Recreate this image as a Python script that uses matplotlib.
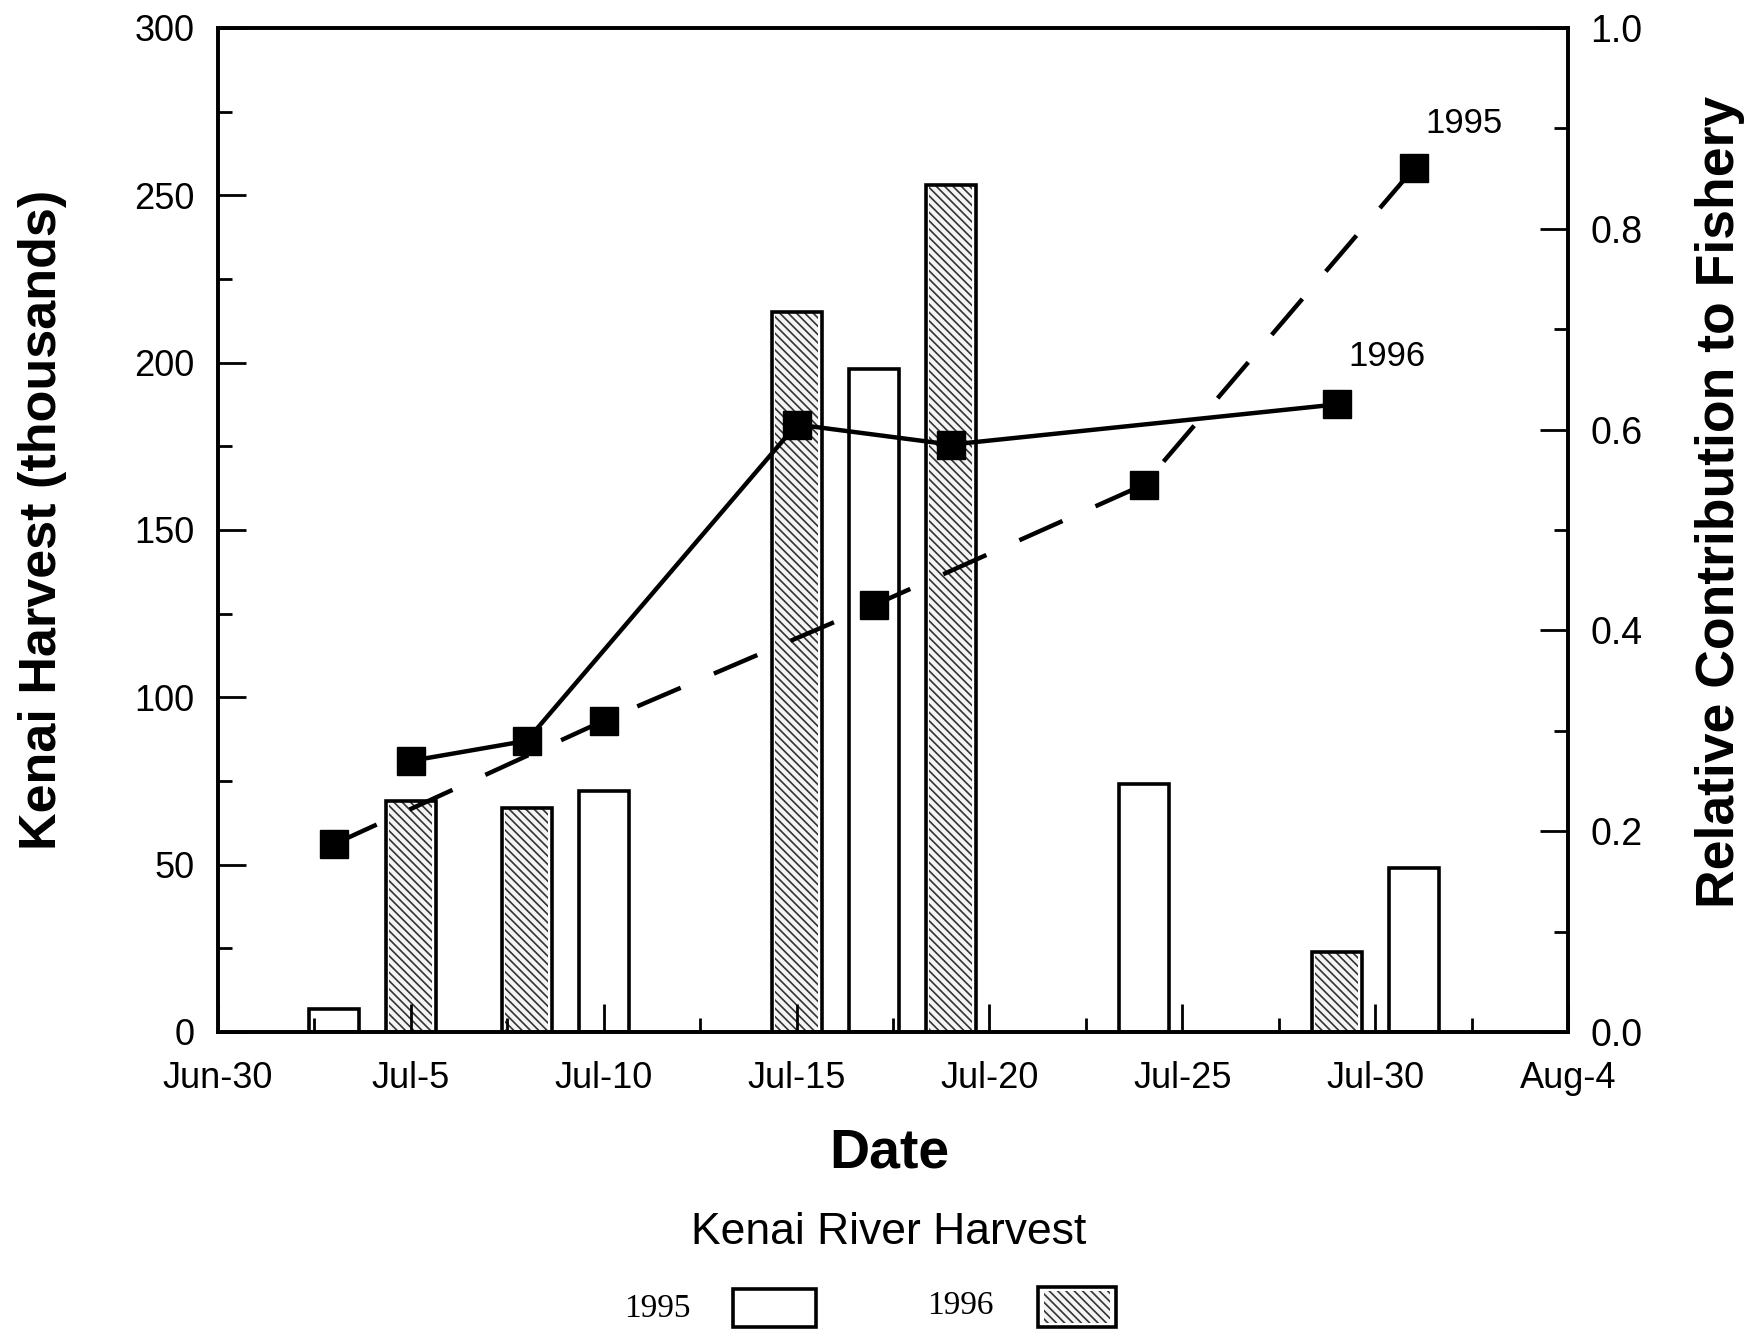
import matplotlib
matplotlib.use("Agg")
import matplotlib.pyplot as plt
import pandas as pd
from matplotlib.patches import Rectangle
from matplotlib.ticker import FixedLocator, MultipleLocator

plt.rcParams["font.family"] = ["Liberation Sans", "DejaVu Sans"]
plt.rcParams["hatch.linewidth"] = 1.2
plt.rcParams["lines.scale_dashes"] = False

# Kenai River harvest (thousands of fish) by fishery opening date
harvest_1995_dates = ["Jul-3", "Jul-10", "Jul-17", "Jul-24", "Jul-31"]
harvest_1995 = [7, 72, 198, 74, 49]
harvest_1996_dates = ["Jul-5", "Jul-8", "Jul-15", "Jul-19", "Jul-29"]
harvest_1996 = [69, 67, 215, 253, 24]

# Relative contribution of Kenai stocks to the fishery
contrib_1995_dates = ["Jul-3", "Jul-10", "Jul-17", "Jul-24", "Jul-31"]
contrib_1995 = [0.187, 0.31, 0.425, 0.545, 0.86]
contrib_1996_dates = ["Jul-5", "Jul-8", "Jul-15", "Jul-19", "Jul-29"]
contrib_1996 = [0.27, 0.29, 0.605, 0.585, 0.625]

x_tick_labels = ["Jun-30", "Jul-5", "Jul-10", "Jul-15", "Jul-20", "Jul-25", "Jul-30", "Aug-4"]

START = pd.Timestamp("1995-06-30")


def to_day(labels):
    return [(pd.to_datetime("1995-" + s, format="%Y-%b-%d") - START).days for s in labels]


x_ticks = to_day(x_tick_labels)

fig = plt.figure(figsize=(17.5, 13.29), dpi=100)
ax = fig.add_axes([0.1246, 0.2235, 0.7714, 0.7555])
ax2 = ax.twinx()

bar_w = 1.3
HATCH = "\\\\\\\\"
ax.bar(to_day(harvest_1995_dates), harvest_1995, width=bar_w, facecolor="white",
       edgecolor="black", linewidth=2.6, zorder=1)
# 1996 bars: hatched fill first, then the black outline on top
ax.bar(to_day(harvest_1996_dates), harvest_1996, width=bar_w * 0.86, facecolor="#f4f4f4",
       edgecolor="#333333", linewidth=0, hatch=HATCH, zorder=1)
ax.bar(to_day(harvest_1996_dates), harvest_1996, width=bar_w, facecolor="none",
       edgecolor="black", linewidth=2.6, zorder=1.1)

ax2.plot(to_day(contrib_1995_dates), contrib_1995, color="black", linewidth=3.2,
         dashes=(34, 26), marker="s", markersize=20, markerfacecolor="black",
         markeredgecolor="black")
ax2.plot(to_day(contrib_1996_dates), contrib_1996, color="black", linewidth=3.2,
         linestyle="-", marker="s", markersize=20, markerfacecolor="black",
         markeredgecolor="black")

ax2.text(32.3, 0.905, "1995", fontsize=25, ha="center", va="center")
ax2.text(30.3, 0.673, "1996", fontsize=25, ha="center", va="center")

ax.set_xlim(0, 35)
ax.set_ylim(0, 300)
ax2.set_ylim(0, 1.0)

ax.xaxis.set_major_locator(FixedLocator(x_ticks))
ax.set_xticklabels(x_tick_labels)
ax.xaxis.set_minor_locator(MultipleLocator(2.5))
ax.yaxis.set_major_locator(MultipleLocator(50))
ax.yaxis.set_minor_locator(MultipleLocator(25))
ax2.yaxis.set_major_locator(MultipleLocator(0.2))
ax2.yaxis.set_minor_locator(MultipleLocator(0.1))
ax2.yaxis.set_major_formatter(plt.FuncFormatter(lambda v, p: f"{v:.1f}"))

ax.tick_params(axis="both", which="major", direction="in", length=20, width=2.0,
               labelsize=26)
ax.tick_params(axis="x", which="major", pad=21)
ax.tick_params(axis="y", which="major", pad=17)
ax.tick_params(axis="both", which="minor", direction="in", length=10, width=2.0)
ax.tick_params(axis="y", which="both", right=False)
ax.tick_params(axis="x", which="both", top=False)
ax2.tick_params(axis="y", which="major", direction="in", length=20, width=2.0,
                labelsize=27, pad=16)
ax2.tick_params(axis="y", which="minor", direction="in", length=10, width=2.0)

for a in (ax, ax2):
    for sp in a.spines.values():
        sp.set_linewidth(2.6)

ax.set_ylabel("Kenai Harvest (thousands)", fontsize=37.5, fontweight="bold")
ax.yaxis.set_label_coords(-0.112, 0.51)
ax2.set_ylabel("Relative Contribution to Fishery", fontsize=38.5, fontweight="bold",
               rotation=90)
ax2.yaxis.set_label_coords(1.094, 0.528)

fig.text(889 / 1750, 1 - 1153 / 1329, "Date", fontsize=40, fontweight="bold",
         ha="center", va="center")
fig.text(889 / 1750, 1 - 1233 / 1329, "Kenai River Harvest", fontsize=32,
         ha="center", va="center")

# Legend swatches for the harvest bars
fig.text(657 / 1750, 1 - 1309 / 1329, "1995", fontsize=24, ha="center", va="center",
         family=["Liberation Serif", "DejaVu Serif"])
fig.text(960 / 1750, 1 - 1306 / 1329, "1996", fontsize=24, ha="center", va="center",
         family=["Liberation Serif", "DejaVu Serif"])
fig.add_artist(Rectangle((733 / 1750, 2 / 1329), 83 / 1750, 38 / 1329,
                         transform=fig.transFigure, facecolor="white",
                         edgecolor="black", linewidth=2.6))
fig.add_artist(Rectangle((1044 / 1750, 6 / 1329), 66 / 1750, 32 / 1329,
                         transform=fig.transFigure, facecolor="#f4f4f4",
                         edgecolor="#333333", linewidth=0, hatch=HATCH))
fig.add_artist(Rectangle((1038 / 1750, 2 / 1329), 78 / 1750, 40 / 1329,
                         transform=fig.transFigure, facecolor="none",
                         edgecolor="black", linewidth=2.6))

fig.savefig("out.png", dpi=100)
